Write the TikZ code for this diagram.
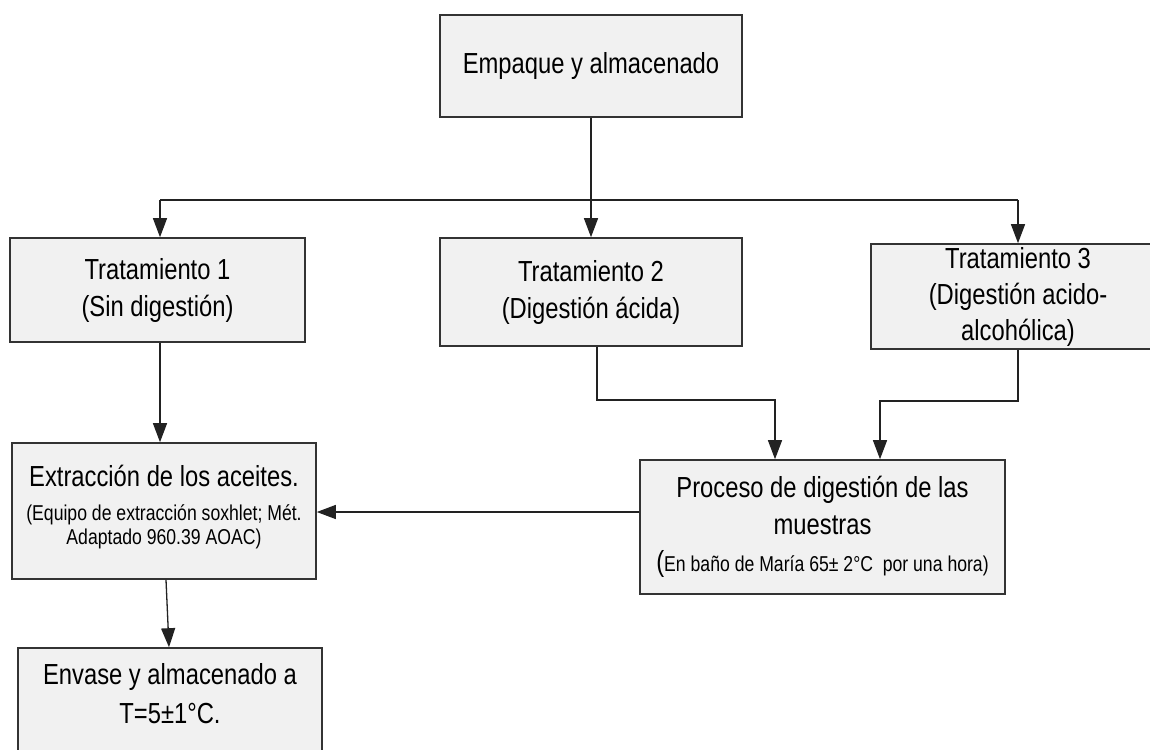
\documentclass[tikz,border=0pt]{standalone}
\usepackage{fontspec}
\setmainfont{Liberation Sans}[FakeStretch=0.82]
\usetikzlibrary{arrows.meta}
\definecolor{boxfill}{HTML}{F1F1F1}
\definecolor{boxline}{HTML}{333333}
\definecolor{conn}{HTML}{222222}
\newcommand{\bigf}{\fontsize{29}{37}\selectfont}
\newcommand{\smf}{\fontsize{21.5}{24}\selectfont}
\newcommand{\smg}{\fontsize{21.5}{24}\selectfont}
\begin{document}
\begin{tikzpicture}[x=1pt,y=-1pt,
  procbox/.style={draw=boxline,line width=1.6pt,fill=boxfill,inner sep=0pt,align=center,font=\bigf},
  boxtext/.style={inner sep=0pt,align=center,font=\bigf},
  conline/.style={draw=conn,line width=1.3pt},
  arr/.style={conline,-{Triangle[length=19pt,width=14pt]}}]
\useasboundingbox (0,0) rectangle (1150,749);
\clip (0,0) rectangle (1150,749);
\node[procbox,minimum width=302pt,minimum height=102pt] (top) at (591,66) {Empaque y almacenado};
\node[procbox,minimum width=295pt,minimum height=104pt] (t1) at (157.5,290) {Tratamiento 1\\(Sin digestión)};
\node[procbox,minimum width=302pt,minimum height=108pt] (t2) at (591,292) {Tratamiento 2\\(Digestión ácida)};
\node[procbox,minimum width=294pt,minimum height=105pt] (t3) at (1018,296.5) {Tratamiento 3\\[-1pt](Digestión acido-\\[-1pt]alcohólica)};
\node[procbox,minimum width=304pt,minimum height=136pt] (ext) at (164,511) {};
\node[boxtext,font=\smf] (extt) at ([yshift=4pt]ext.center) {{\bigf Extracción de los aceites.}\\[10pt](Equipo de extracción soxhlet; Mét.\\Adaptado 960.39 AOAC)};
\node[procbox,minimum width=365pt,minimum height=134pt] (proc) at (822.5,527) {Proceso de digestión de las\\muestras\\{\bigf(}{\smg En baño de María 65± 2°C\ \ por una hora)}};
\node[procbox,minimum width=304pt,minimum height=104pt] (env) at (170,700) {};
\node[boxtext] (envt) at ([yshift=6pt]env.center) {Envase y almacenado a\\[2pt]T=5±1°C.};
\coordinate (bl) at (160,200);
\coordinate (br) at (1018,200);
\draw[arr] (top.south) -- (t2.north);
\draw[conline] (bl) -- (br);
\draw[arr] (bl) -- (t1.north -| bl);
\draw[arr] (br) -- (t3.north);
\draw[arr] (t1.south -| bl) -- (ext.north -| bl);
\draw[arr] ([xshift=2pt]ext.south) -- ([xshift=-1pt]env.north);
\draw[arr] (proc.west |- 0,512) -- (ext.east |- 0,512);
\draw[arr] (t2.south -| 597,0) |- (775,400) -- (proc.north -| 775,0);
\draw[arr] (t3.south) |- (880,401) -- (proc.north -| 880,0);
\end{tikzpicture}
\end{document}
